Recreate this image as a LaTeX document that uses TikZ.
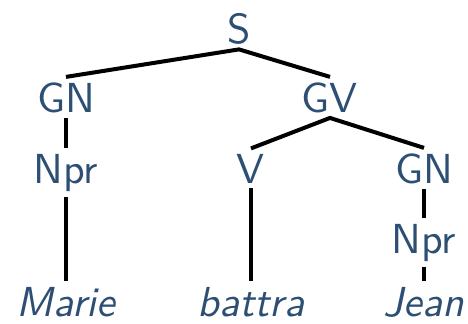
\documentclass[tikz,border=0pt]{standalone}
\usepackage{tikz}
\usetikzlibrary{arrows,positioning}
\definecolor{treeblue}{RGB}{44,79,115}

\begin{document}
\begin{tikzpicture}[x=0.5pt,y=-0.5pt]
                \tikzstyle{every node}+=[inner sep=1.1pt, scale=2.1, anchor=base, text=treeblue, font=\fontsize{10}{12}\selectfont\sffamily]
                \tikzstyle{leaf}=[font=\fontsize{10}{12}\selectfont\sffamily\itshape]
                \tikzstyle{branch}=[black, line width=2pt]
                \useasboundingbox (0,0) rectangle (468,323);
                \node (S) at (239,43) {S};
                \node (GNa) at (66,112) {GN};
                \node (GV) at (330,112) {GV};
                \node (Npra) at (66,183) {Npr};
                \node (V) at (251,183) {V};
                \node (GNb) at (424,183) {GN};
                \node (Nprb) at (424,253) {Npr};
                \node [leaf] (marie) at (66,316) {Marie};
                \node [leaf] (battra) at (251,316) {battra};
                \node [leaf] (jean) at (424,316) {Jean};
                \draw [branch] (GNa.north) -- (S.south) -- (GV.north);
                \draw [branch] (V.north) -- (GV.south) -- (GNb.north);
                \draw [branch] (GNa.south) -- (Npra.north);
                \draw [branch] (Npra.south) -- (marie.north);
                \draw [branch] (V.south) -- (battra.north);
                \draw [branch] (GNb.south) -- (Nprb.north);
                \draw [branch] (Nprb.south) -- (jean.north);
            \end{tikzpicture}
\end{document}
